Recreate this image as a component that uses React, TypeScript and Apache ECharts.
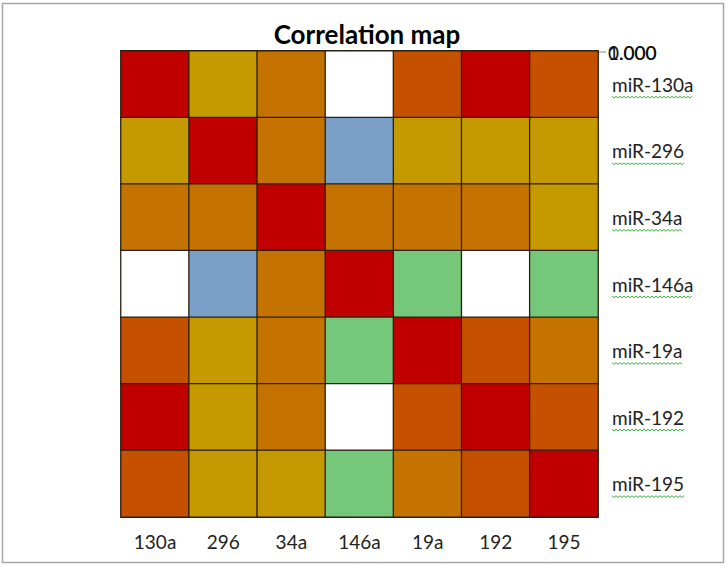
import React, { useEffect, useRef } from "react";
import * as echarts from "echarts";

const xCategories = ["130a", "296", "34a", "146a", "19a", "192", "195"];
const yCategories = ["miR-130a", "miR-296", "miR-34a", "miR-146a", "miR-19a", "miR-192", "miR-195"];

// Correlation levels (rows top to bottom, columns left to right)
const row130a = [1.0, 0.7, 0.8, 0.0, 0.9, 1.0, 0.9];
const row296 = [0.7, 1.0, 0.8, 0.3, 0.7, 0.7, 0.7];
const row34a = [0.8, 0.8, 1.0, 0.8, 0.8, 0.8, 0.7];
const row146a = [0.0, 0.3, 0.8, 1.0, 0.5, 0.0, 0.5];
const row19a = [0.9, 0.7, 0.8, 0.5, 1.0, 0.9, 0.8];
const row192 = [1.0, 0.7, 0.8, 0.0, 0.9, 1.0, 0.9];
const row195 = [0.9, 0.7, 0.7, 0.5, 0.8, 0.9, 1.0];
const rows = [row130a, row296, row34a, row146a, row19a, row192, row195];

const levelValues = [0.0, 0.3, 0.5, 0.7, 0.8, 0.9, 1.0];
const levelColors = ["#FFFFFF", "#7BA0C8", "#75C77A", "#C49A00", "#C47200", "#C55100", "#C00000"];

const FONT = "Lato, 'Open Sans', sans-serif";
const LABEL_SIZE = 19;

export default function App() {
  const ref = useRef<HTMLDivElement>(null);
  useEffect(() => {
    document.body.style.margin = "0";
    if (!ref.current) return;
    const chart = echarts.init(ref.current, null, { renderer: "svg" });
    const data: number[][] = [];
    rows.forEach((r, yi) => r.forEach((v, xi) => data.push([xi, yi, v])));

    const gridLeft = 121, gridTop = 51, gridW = 477, gridH = 466;
    const labelX = 612;
    const cellH = gridH / yCategories.length;

    const canvas = document.createElement("canvas");
    const ctx = canvas.getContext("2d")!;
    ctx.font = `${LABEL_SIZE}px Lato`;
    const waves: any[] = yCategories.map((lab, i) => {
      const w = ctx.measureText(lab).width;
      const y = gridTop + cellH * (i + 0.5) + 12;
      const pts: number[][] = [];
      for (let x = 0; x <= w; x += 2) pts.push([labelX + x, y + ((x / 2) % 2 === 0 ? 0 : 1.8)]);
      return { type: "polyline", shape: { points: pts }, style: { stroke: "#3cb043", lineWidth: 1, fill: null }, silent: true };
    });

    chart.setOption({
      animation: false,
      backgroundColor: "#ffffff",
      title: {
        text: "Correlation map",
        left: 362,
        textAlign: "center",
        top: 16,
        textStyle: { fontFamily: FONT, fontSize: 26, fontWeight: "bold", color: "#000" },
      },
      grid: { left: gridLeft, top: gridTop, width: gridW, height: gridH },
      xAxis: {
        type: "category",
        data: xCategories,
        position: "bottom",
        axisLine: { show: false },
        axisTick: { show: false },
        splitLine: { show: false },
        axisLabel: { fontFamily: FONT, fontSize: LABEL_SIZE, color: "#222", margin: 15 },
      },
      yAxis: {
        type: "category",
        data: yCategories,
        position: "right",
        inverse: true,
        axisLine: { show: false },
        axisTick: { show: false },
        splitLine: { show: false },
        axisLabel: { fontFamily: FONT, fontSize: LABEL_SIZE, color: "#222", margin: 14, align: "left" },
      },
      visualMap: {
        show: false,
        type: "piecewise",
        dimension: 2,
        pieces: levelValues.map((v, i) => ({ value: v, color: levelColors[i] })),
      },
      graphic: [
        {
          type: "rect",
          shape: { x: 2.5, y: 3.5, width: 721, height: 559 },
          style: { fill: null, stroke: "#a6a6a6", lineWidth: 1.5 },
          silent: true,
          z: 0,
        },
        {
          type: "line",
          shape: { x1: gridLeft + gridW, y1: gridTop + 1, x2: gridLeft + gridW + 8, y2: gridTop + 1 },
          style: { stroke: "#888", lineWidth: 1 },
          silent: true,
        },
        {
          type: "text",
          x: 608,
          y: gridTop + 1,
          style: { text: "1.000", font: `${LABEL_SIZE}px ${FONT}`, fill: "#111", textVerticalAlign: "middle" },
          silent: true,
        },
        {
          type: "text",
          x: 608,
          y: gridTop + 1,
          style: { text: "0.000", font: `${LABEL_SIZE}px ${FONT}`, fill: "#111", textVerticalAlign: "middle" },
          silent: true,
        },
        ...waves,
      ],
      series: [
        {
          type: "heatmap",
          data,
          itemStyle: { borderColor: "#2b2010", borderWidth: 1.3 },
          emphasis: { disabled: true },
        },
      ],
    });
    return () => chart.dispose();
  }, []);
  return <div ref={ref} style={{ width: 728, height: 566 }} />;
}
